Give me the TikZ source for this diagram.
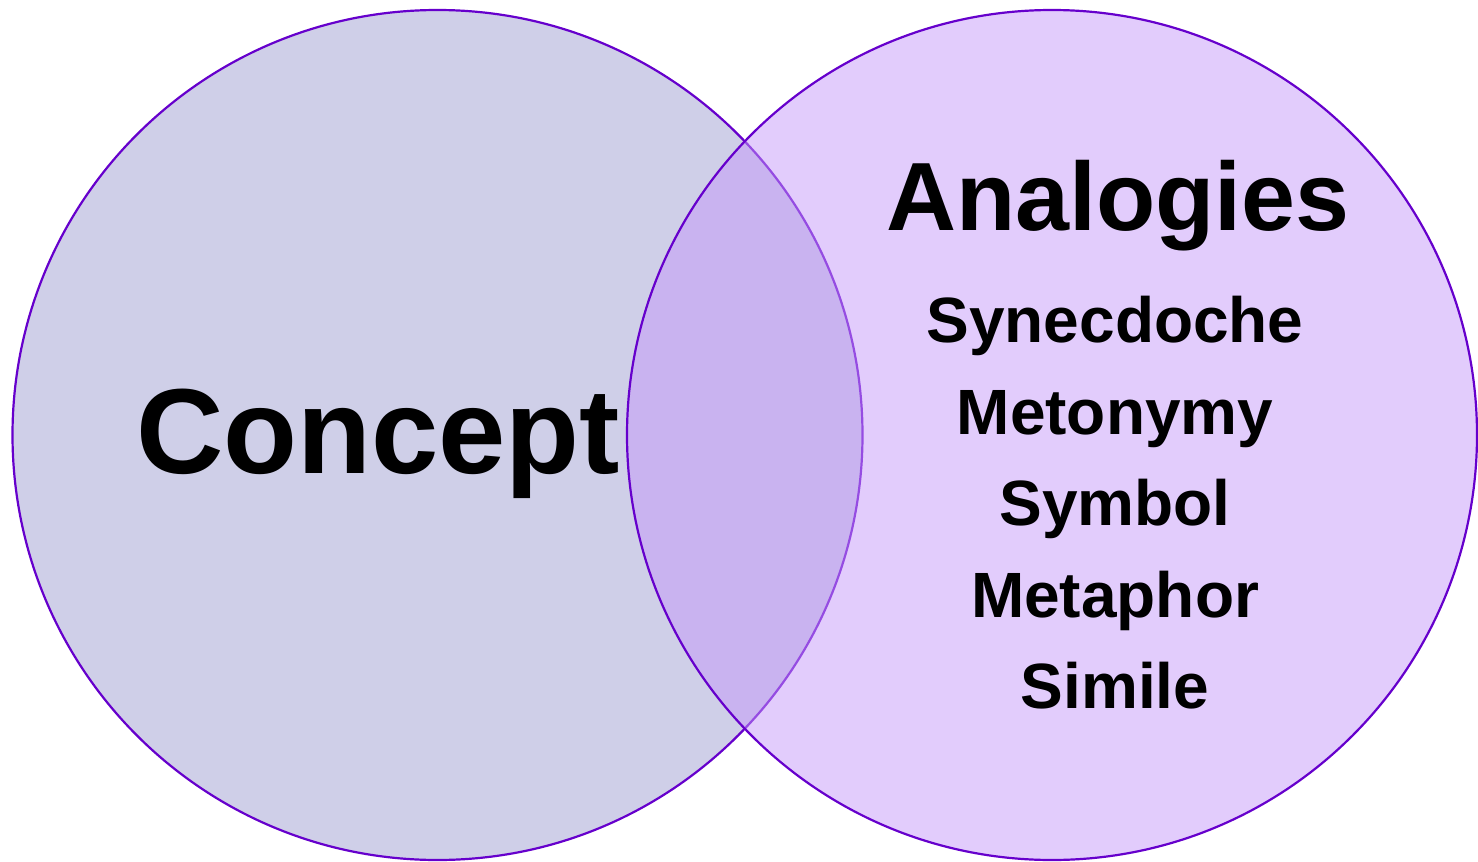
\documentclass[tikz,border=0pt]{standalone}
\usepackage{fontspec}
\setmainfont{Liberation Sans}
\definecolor{ringline}{RGB}{102,0,204}
\definecolor{leftfill}{RGB}{207,207,232}
\definecolor{rightfill}{RGB}{197,153,249}
\begin{document}
\begin{tikzpicture}[x=1pt,y=-1pt,
  ring/.style={draw=ringline,line width=2.2pt},
  bigword/.style={inner sep=0pt,anchor=base,font=\bfseries\fontsize{121}{126}\selectfont},
  headword/.style={inner sep=0pt,anchor=base,font=\bfseries\fontsize{97}{100}\selectfont},
  item/.style={inner sep=0pt,anchor=base,font=\bfseries\fontsize{64}{70}\selectfont}]
  \useasboundingbox (0,0) rectangle (1478,862);
  \coordinate (lc) at (437.5,435);
  \coordinate (rc) at (1052,435);
  % left set, then the translucent right set over it
  \fill[leftfill] (lc) circle[radius=425pt];
  \draw[ring] (lc) circle[radius=425pt];
  \fill[rightfill,fill opacity=0.5] (rc) circle[radius=425pt];
  \draw[ring] (rc) circle[radius=425pt];
  % labels
  \node[bigword] (concept) at (378,473) {Concept};
  \node[headword] (analogies) at (1118,230) {Analogies};
  \node[item] (syn) at (1115,342) {Synecdoche};
  \node[item] (met) at (1115,434) {Metonymy};
  \node[item] (sym) at (1115,525) {Symbol};
  \node[item] (mph) at (1115,617) {Metaphor};
  \node[item] (sim) at (1115,708) {Simile};
\end{tikzpicture}
\end{document}
